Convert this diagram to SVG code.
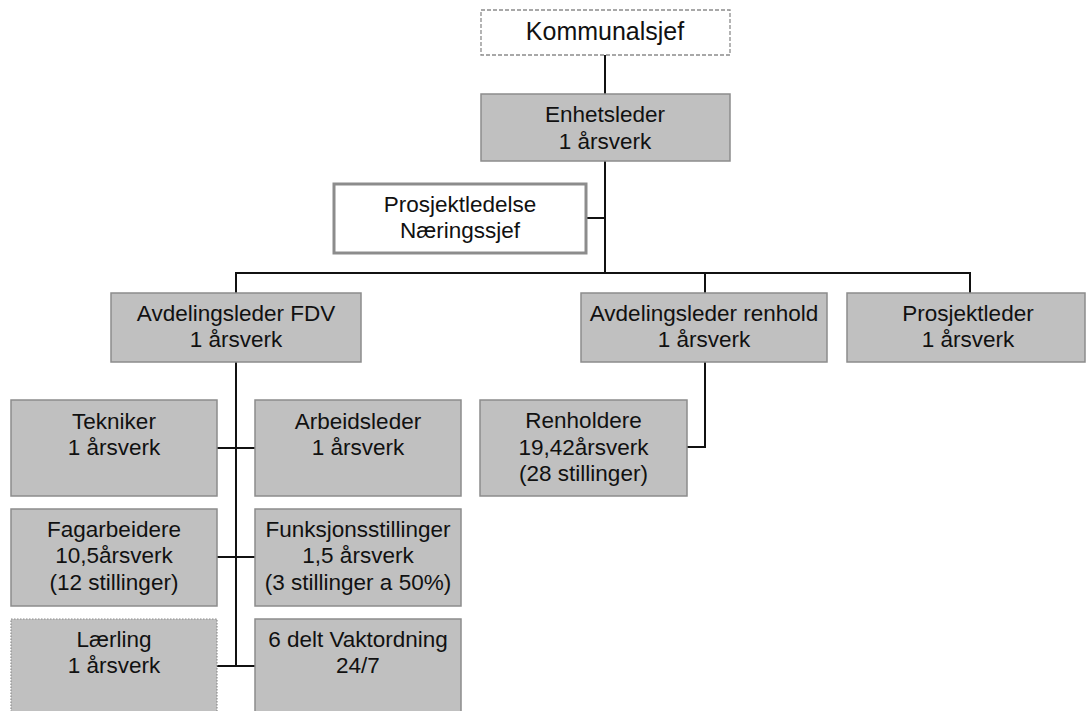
<svg xmlns="http://www.w3.org/2000/svg" width="1086" height="711" viewBox="0 0 1086 711">
  <style>
    .box { fill: #c0c0c0; stroke: #8c8c8c; stroke-width: 1.5; }
    .plain { fill: #ffffff; stroke: #8c8c8c; }
    .dashed { stroke-width: 1.3; stroke-dasharray: 4 2; }
    .thick { stroke-width: 3; }
    .dotted { stroke-dasharray: 1.5 1.5; stroke-width: 1.2; }
    .lbl { font-family: "Liberation Sans", Arial, sans-serif; font-size: 22.5px; fill: #111; text-anchor: middle; }
    .big { font-size: 25px; }
    .wire { fill: none; stroke: #111; stroke-width: 2; }
  </style>

  <!-- connectors -->
  <g id="connectors">
    <path class="wire" d="M605 55 V94"/>
    <path class="wire" d="M605 161 V273"/>
    <path class="wire" d="M587 218 H605"/>
    <path class="wire" d="M235 273 H971"/>
    <path class="wire" d="M236 273 V293"/>
    <path class="wire" d="M705 273 V293"/>
    <path class="wire" d="M970 273 V293"/>
    <path class="wire" d="M236 362 V667"/>
    <path class="wire" d="M217 448 H255"/>
    <path class="wire" d="M217 557 H255"/>
    <path class="wire" d="M217 666 H255"/>
    <path class="wire" d="M705 362 V447 H687"/>
  </g>

  <g id="kommunalsjef">
    <rect class="plain dashed" x="481" y="10" width="249" height="45"/>
    <text class="lbl big" x="605" y="40">Kommunalsjef</text>
  </g>

  <g id="enhetsleder">
    <rect class="box" x="481" y="94" width="249" height="67"/>
    <text class="lbl" x="605" y="122">Enhetsleder</text>
    <text class="lbl" x="605" y="149">1 årsverk</text>
  </g>

  <g id="prosjektledelse">
    <rect class="plain thick" x="334" y="184" width="252" height="69"/>
    <text class="lbl" x="460" y="212">Prosjektledelse</text>
    <text class="lbl" x="460" y="238">Næringssjef</text>
  </g>

  <g id="avdelingsleder-fdv">
    <rect class="box" x="111" y="293" width="250" height="69"/>
    <text class="lbl" x="236" y="321">Avdelingsleder FDV</text>
    <text class="lbl" x="236" y="347">1 årsverk</text>
  </g>

  <g id="avdelingsleder-renhold">
    <rect class="box" x="581" y="293" width="246" height="69"/>
    <text class="lbl" x="704" y="321">Avdelingsleder renhold</text>
    <text class="lbl" x="704" y="347">1 årsverk</text>
  </g>

  <g id="prosjektleder">
    <rect class="box" x="847" y="293" width="238" height="69"/>
    <text class="lbl" x="968" y="321">Prosjektleder</text>
    <text class="lbl" x="968" y="347">1 årsverk</text>
  </g>

  <g id="tekniker">
    <rect class="box" x="11" y="400" width="206" height="96"/>
    <text class="lbl" x="114" y="429">Tekniker</text>
    <text class="lbl" x="114" y="455">1 årsverk</text>
  </g>

  <g id="arbeidsleder">
    <rect class="box" x="255" y="400" width="206" height="96"/>
    <text class="lbl" x="358" y="429">Arbeidsleder</text>
    <text class="lbl" x="358" y="455">1 årsverk</text>
  </g>

  <g id="fagarbeidere">
    <rect class="box" x="11" y="509" width="206" height="97"/>
    <text class="lbl" x="114" y="537">Fagarbeidere</text>
    <text class="lbl" x="114" y="563">10,5årsverk</text>
    <text class="lbl" x="114" y="590">(12 stillinger)</text>
  </g>

  <g id="funksjonsstillinger">
    <rect class="box" x="255" y="509" width="206" height="97"/>
    <text class="lbl" x="358" y="537">Funksjonsstillinger</text>
    <text class="lbl" x="358" y="563">1,5 årsverk</text>
    <text class="lbl" x="358" y="590">(3 stillinger a 50%)</text>
  </g>

  <g id="laerling">
    <rect class="box dotted" x="11" y="619" width="206" height="100"/>
    <text class="lbl" x="114" y="647">Lærling</text>
    <text class="lbl" x="114" y="673">1 årsverk</text>
  </g>

  <g id="vaktordning">
    <rect class="box" x="255" y="619" width="206" height="100"/>
    <text class="lbl" x="358" y="647">6 delt Vaktordning</text>
    <text class="lbl" x="358" y="673">24/7</text>
  </g>

  <g id="renholdere">
    <rect class="box" x="480" y="400" width="207" height="96"/>
    <text class="lbl" x="583.5" y="428">Renholdere</text>
    <text class="lbl" x="583.5" y="454.5">19,42årsverk</text>
    <text class="lbl" x="583.5" y="481">(28 stillinger)</text>
  </g>
</svg>
